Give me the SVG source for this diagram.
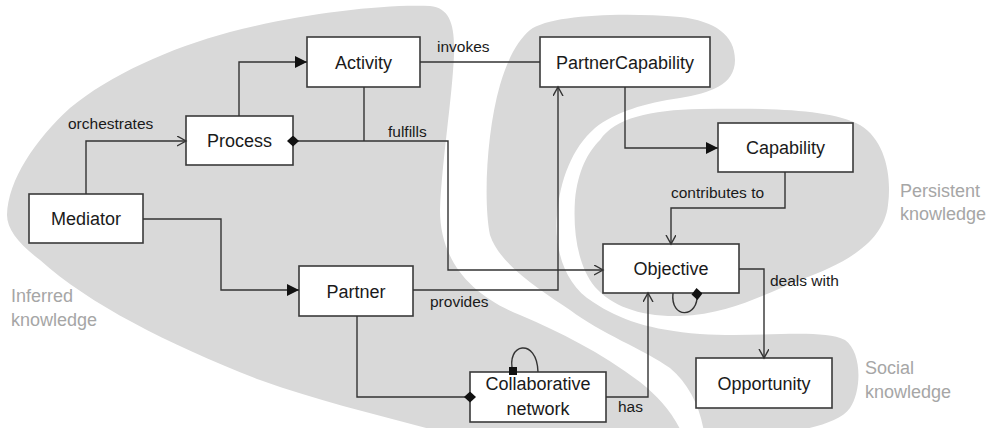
<svg xmlns="http://www.w3.org/2000/svg" width="989" height="428" viewBox="0 0 989 428">
<style>
.blob{fill:#d9d9d9;stroke:none}
.box{fill:#fff;stroke:#3a3a3a;stroke-width:1.6}
.ln{fill:none;stroke:#333;stroke-width:1.4}
.nl{font-family:"Liberation Sans",Arial,sans-serif;font-size:18px;fill:#1a1a1a;text-anchor:middle}
.el{font-family:"Liberation Sans",Arial,sans-serif;font-size:15.5px;fill:#1a1a1a}
.rl{font-family:"Liberation Sans",Arial,sans-serif;font-size:18px;fill:#a6a6a6}
</style>
<defs>
<marker id="fa" markerUnits="userSpaceOnUse" markerWidth="13" markerHeight="13" refX="12" refY="6" orient="auto"><path d="M0,0 L12,6 L0,12 Z" fill="#111"/></marker>
<marker id="oa" markerUnits="userSpaceOnUse" markerWidth="12" markerHeight="12" refX="9" refY="5" orient="auto"><path d="M0,0 L9,5 L0,10" fill="none" stroke="#333" stroke-width="1.4"/></marker>
<marker id="dm" markerUnits="userSpaceOnUse" markerWidth="13" markerHeight="13" refX="6" refY="5.5" orient="auto"><path d="M0,5.5 L6,0 L12,5.5 L6,11 Z" fill="#111"/></marker>
</defs>
<g id="regions">
<path class="blob" d="M7,215 C8,180 35,140 70,108 C110,75 170,48 230,32 C300,14 380,4 430,6 C450,8 455,25 454,55 C452,100 442,160 440,210 C440,260 470,295 520,315 C560,332 600,352 640,382 C660,398 675,415 685,440 L470,440 C400,420 330,405 260,380 C170,345 90,305 40,260 C20,245 7,230 7,215 Z"/>
<path class="blob" d="M530,30 C550,15 620,12 680,17 C715,21 735,35 735,60 C735,85 710,93 680,98 C645,103 615,112 595,128 C572,148 560,180 557,215 C554,250 565,285 593,302 C620,320 650,330 700,334 C760,338 820,328 845,340 C862,352 862,390 850,408 C838,425 800,430 770,436 L705,440 C702,410 690,385 670,368 C645,350 600,333 570,310 C540,290 500,265 490,235 C483,200 487,130 500,85 C508,58 518,40 530,30 Z"/>
<path class="blob" d="M600,140 C615,118 650,110 700,109 C760,108 830,108 860,125 C885,140 892,175 888,205 C884,240 850,262 800,280 C760,296 730,314 680,316 C640,317 612,306 595,287 C577,265 573,230 575,200 C578,170 588,152 600,140 Z"/>
<text class="rl" x="11" y="302">Inferred</text>
<text class="rl" x="11" y="326">knowledge</text>
<text class="rl" x="900" y="197">Persistent</text>
<text class="rl" x="900" y="220">knowledge</text>
<text class="rl" x="865" y="374">Social</text>
<text class="rl" x="865" y="398">knowledge</text>
</g>
<g id="activity"><rect class="box" x="307" y="37" width="113" height="50"/><text class="nl" x="363.5" y="68.5">Activity</text></g>
<g id="process"><rect class="box" x="186" y="116" width="107" height="49"/><text class="nl" x="239.5" y="147">Process</text></g>
<g id="mediator"><rect class="box" x="29" y="194" width="114" height="49"/><text class="nl" x="86" y="225">Mediator</text></g>
<g id="partner"><rect class="box" x="299" y="266" width="114" height="50"/><text class="nl" x="356" y="297.5">Partner</text></g>
<g id="partnercapability"><rect class="box" x="540" y="37" width="170" height="50"/><text class="nl" x="625" y="68.5">PartnerCapability</text></g>
<g id="capability"><rect class="box" x="718" y="123" width="135" height="49"/><text class="nl" x="785.5" y="154">Capability</text></g>
<g id="objective"><rect class="box" x="603" y="244" width="136" height="49"/><text class="nl" x="671" y="275">Objective</text></g>
<g id="opportunity"><rect class="box" x="696" y="358" width="136" height="50"/><text class="nl" x="764" y="389.5">Opportunity</text></g>
<g id="collaborative-network"><rect class="box" x="470" y="372" width="136" height="50"/><text class="nl" x="538" y="390">Collaborative</text><text class="nl" x="538" y="415">network</text></g>
<g id="connectors">
<path class="ln" d="M239,116 V62 H307" marker-end="url(#fa)"/>
<path class="ln" d="M86,194 V141 H186" marker-end="url(#oa)"/>
<path class="ln" d="M420,62 H540"/>
<path class="ln" d="M293,141 H448 V270 H603" marker-start="url(#dm)" marker-end="url(#oa)"/>
<path class="ln" d="M364,87 V141"/>
<path class="ln" d="M413,290 H558 V87" marker-end="url(#oa)"/>
<path class="ln" d="M625,87 V148 H718" marker-end="url(#fa)"/>
<path class="ln" d="M785,172 V208 H671 V244" marker-end="url(#oa)"/>
<path class="ln" d="M739,269 H764 V358" marker-end="url(#oa)"/>
<path class="ln" d="M606,397 H648 V293" marker-end="url(#oa)"/>
<path class="ln" d="M357,316 V397 H470" marker-end="url(#dm)"/>
<path class="ln" d="M143,219 H221 V290 H299" marker-end="url(#fa)"/>
<path class="ln" d="M697,294 C699,318 670,320 673,293" marker-start="url(#dm)"/>
<path class="ln" d="M513,372 C505,343 537,337 538,372"/>
<rect x="509" y="367" width="8" height="8" fill="#111"/>
<text class="el" x="68" y="129">orchestrates</text>
<text class="el" x="437" y="52">invokes</text>
<text class="el" x="388" y="137">fulfills</text>
<text class="el" x="430" y="307">provides</text>
<text class="el" x="671" y="198">contributes to</text>
<text class="el" x="770" y="286">deals with</text>
<text class="el" x="618" y="412">has</text>
</g>
</svg>
